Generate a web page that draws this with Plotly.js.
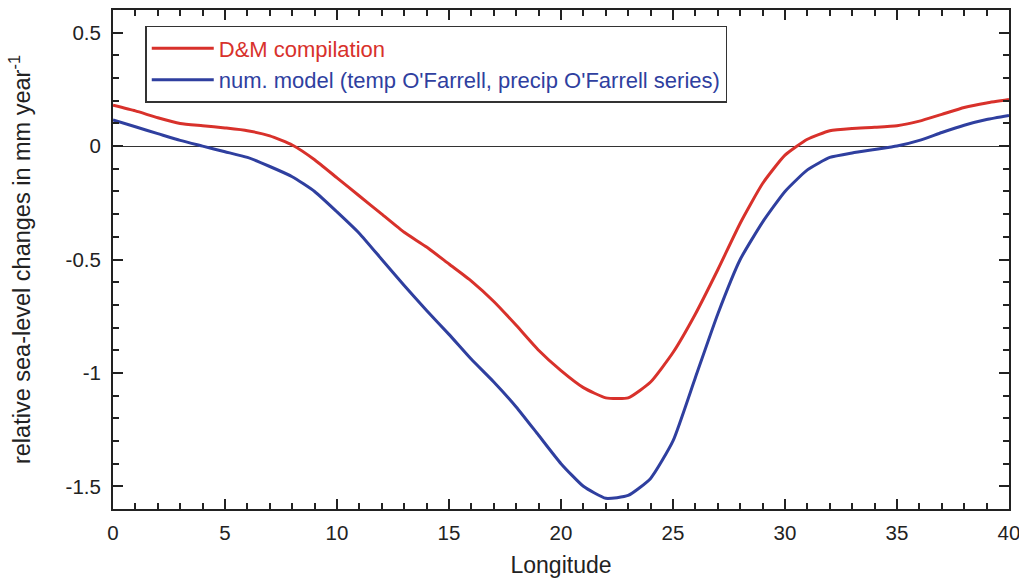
<!DOCTYPE html>
<html>
<head>
<meta charset="utf-8">
<script src="https://cdn.plot.ly/plotly-3.0.1.min.js"></script>
<style>html,body{margin:0;padding:0;background:#fff;}#chart{width:1019px;height:581px;}</style>
</head>
<body>
<div id="chart"></div>
<script>
const longitude = [0,1,2,3,4,5,6,7,8,9,10,11,12,13,14,15,16,17,18,19,20,21,22,23,24,25,26,27,28,29,30,31,32,33,34,35,36,37,38,39,40];
const dmCompilation = [0.18,0.155,0.125,0.10,0.09,0.08,0.068,0.045,0.005,-0.06,-0.14,-0.22,-0.30,-0.38,-0.445,-0.52,-0.595,-0.685,-0.79,-0.90,-0.99,-1.065,-1.11,-1.11,-1.04,-0.91,-0.74,-0.545,-0.34,-0.165,-0.04,0.03,0.068,0.078,0.083,0.09,0.11,0.14,0.17,0.19,0.205];
const numModel = [0.115,0.085,0.055,0.025,0.0,-0.025,-0.05,-0.09,-0.135,-0.2,-0.29,-0.385,-0.5,-0.615,-0.725,-0.83,-0.94,-1.04,-1.15,-1.275,-1.40,-1.50,-1.553,-1.54,-1.465,-1.3,-1.02,-0.74,-0.5,-0.335,-0.2,-0.105,-0.05,-0.03,-0.015,0.0,0.025,0.06,0.092,0.117,0.135];
const seriesNames = ["D&amp;M compilation", "num. model (temp O'Farrell, precip O'Farrell series)"];
const seriesColors = ["#d8312b", "#2f3f9f"];

const FONT = 'Liberation Sans, Arial, sans-serif';
const traces = [
  {x: longitude, y: dmCompilation, type: 'scatter', mode: 'lines', line: {color: seriesColors[0], width: 3, shape: 'spline', smoothing: 0.5},
   name: '<span style="color:' + seriesColors[0] + '">' + seriesNames[0] + '</span>'},
  {x: longitude, y: numModel, type: 'scatter', mode: 'lines', line: {color: seriesColors[1], width: 3, shape: 'spline', smoothing: 0.5},
   name: '<span style="color:' + seriesColors[1] + '">' + seriesNames[1] + '</span>'}
];

const axisCommon = {
  showgrid: false, showline: true, linecolor: '#222', linewidth: 2, mirror: 'ticks',
  ticks: 'inside', ticklen: 10, tickwidth: 2, tickcolor: '#222',
  tickfont: {family: FONT, size: 20.5, color: '#222'}, ticklabeloverflow: 'allow'
};

const layout = {
  width: 1019, height: 581,
  margin: {l: 113, r: 10, t: 10, b: 72},
  paper_bgcolor: '#fff', plot_bgcolor: '#fff',
  font: {family: FONT, color: '#222'},
  showlegend: true,
  legend: {x: 0.036, y: 0.968, xanchor: 'left', yanchor: 'top',
    bordercolor: '#333', borderwidth: 1.5, bgcolor: '#fff',
    font: {size: 22, family: FONT},
    itemwidth: 62, tracegroupgap: 0},
  xaxis: Object.assign({}, axisCommon, {
    range: [0, 40], tickmode: 'linear', tick0: 0, dtick: 5, ticklabelstandoff: 4,
    minor: {ticks: 'inside', dtick: 1, ticklen: 6, tickwidth: 2, tickcolor: '#222'},
    zeroline: false,
    title: {text: 'Longitude', font: {size: 23, family: FONT, color: '#222'}, standoff: 14}
  }),
  yaxis: Object.assign({}, axisCommon, {
    range: [-1.6, 0.6], tickmode: 'array', tickvals: [-1.5,-1,-0.5,0,0.5], ticktext: ['-1.5','-1','-0.5','0','0.5'],
    ticklabelstandoff: 6,
    minor: {ticks: 'inside', dtick: 0.1, tick0: 0, ticklen: 6, tickwidth: 2, tickcolor: '#222'},
    zeroline: true, zerolinecolor: '#333', zerolinewidth: 1,
    title: {text: 'relative sea-level changes in mm year<sup>-1</sup>', font: {size: 23.5, family: FONT, color: '#222'}, standoff: 28}
  })
};

Plotly.newPlot('chart', traces, layout, {displayModeBar: false, staticPlot: true});
</script>
</body>
</html>
